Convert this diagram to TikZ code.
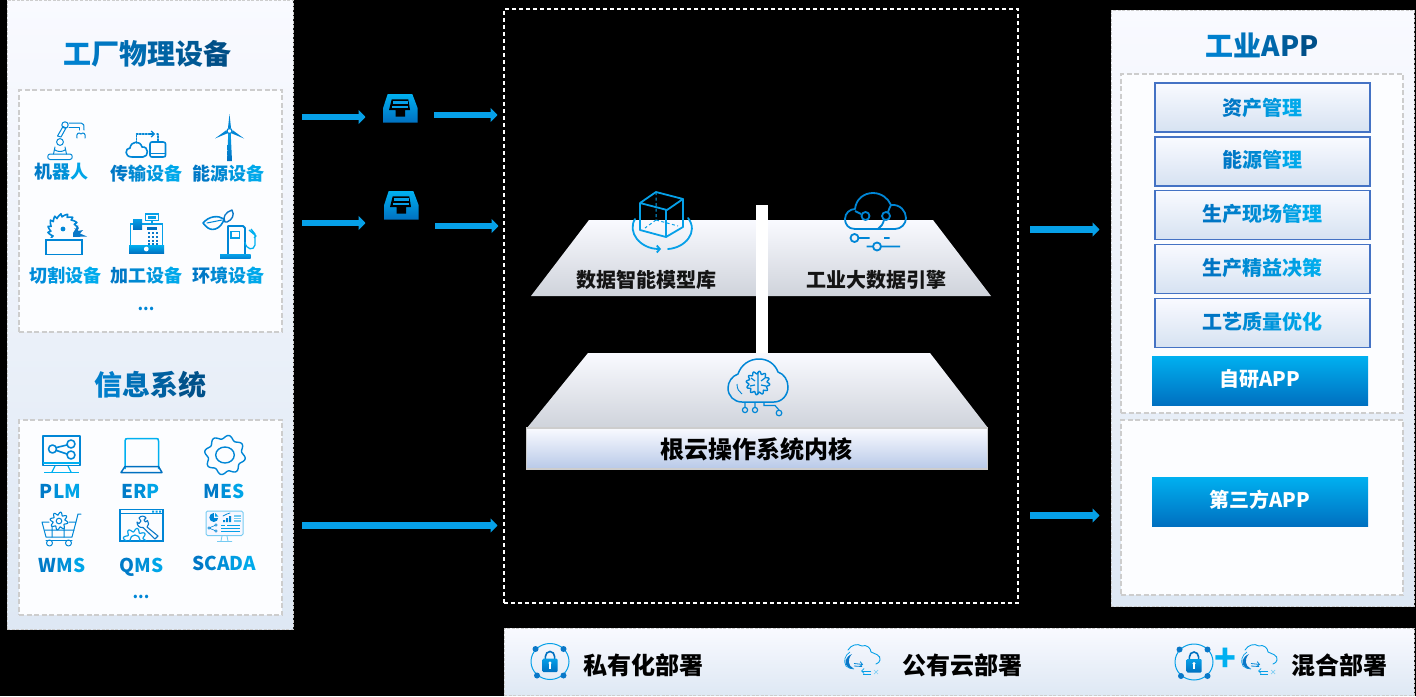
\documentclass[tikz,border=0pt]{standalone}
\usepackage{fontspec}
\setmainfont{Noto Sans CJK SC}
\usetikzlibrary{arrows.meta}
\definecolor{pa}{HTML}{F9FAFF}
\definecolor{pb}{HTML}{DEE8F4}
\definecolor{pl}{HTML}{CFD3DB}
\definecolor{pk}{HTML}{B8C9E8}
\definecolor{gd}{HTML}{CDCDCD}
\definecolor{ba}{HTML}{0070C0}
\definecolor{bb}{HTML}{00B0F0}
\definecolor{bc}{HTML}{004A80}
\definecolor{bd}{HTML}{0086D6}
\definecolor{be}{HTML}{06A0E8}
\definecolor{bf}{HTML}{0A78C8}
\definecolor{bg}{HTML}{4472C4}
\definecolor{inner}{HTML}{FCFDFF}
\ExplSyntaxOn
\NewDocumentCommand\gradtxt{mmm}{
  \int_set:Nn \l_tmpa_int {\tl_count:n{#3}}
  \int_set:Nn \l_tmpb_int {0}
  \tl_map_inline:nn {#3}{
    \int_incr:N \l_tmpb_int
    \tl_set:Nx \l_tmpa_tl {\int_eval:n{100*(2*\l_tmpb_int-1)/(2*\l_tmpa_int)}}
    \textcolor{#2!\l_tmpa_tl!#1}{##1}
  }
}
\ExplSyntaxOff
\newcommand\fs[1]{\fontsize{#1}{#1}\selectfont\bfseries}
\newcommand\rs[2]{\raisebox{#1}[\height][\depth]{#2}}
\tikzset{
  panel/.style={draw=gd,line width=1pt,dash pattern=on 3pt off 1.5pt,top color=pa,bottom color=pb,anchor=north west,inner sep=0pt,outer sep=0pt},
  innerp/.style={draw=gd,line width=1.5pt,dash pattern=on 5pt off 2.5pt,fill=inner,anchor=north west,inner sep=0pt,outer sep=0pt},
  txt/.style={inner sep=0pt,outer sep=0pt,anchor=center},
  title/.style={txt,font=\fs{28}},
  lab/.style={txt,font=\fs{18}},
  sys/.style={txt,font=\fs{19}},
  mid/.style={txt,font=\fs{20},text=black!92},
  big/.style={txt,font=\fs{24},text=black},
  appbox/.style={draw=bg,line width=1.5pt,top color=pa,bottom color=pb!95!bg,minimum width=215pt,minimum height=49pt,inner sep=0pt,outer sep=0pt,font=\fs{20}},
  blubox/.style={top color=bb,bottom color=ba,minimum width=216pt,minimum height=49pt,inner sep=0pt,outer sep=0pt,font=\fs{20},text=white},
  flow/.style={draw=be,line width=6.6pt,-{Triangle[length=7pt,width=14pt]},shorten <=0pt},
  ic/.style={draw=bd,line width=1pt,line cap=round,line join=round},
  icb/.style={draw=bd,line width=1.6pt,line cap=round,line join=round},
  inbox/.pic={
    \shade[top color=bb,bottom color=ba] (4.7,0) -- (29.3,0) -- (34.7,14.3) -- (34.7,28.7) -- (0,28.7) -- (0,14.3) -- cycle;
    \fill[black] (8.7,5.3) -- (25.3,5.3) -- (27,16) -- (22,16) -- (22,22.7) -- (12.7,22.7) -- (12.7,16) -- (6,16) -- cycle;
    \fill[be] (9.6,7) rectangle (24.6,9.6);
    \fill[be] (9,11.6) rectangle (25.2,14);
  },
  lockicon/.pic={
    \draw[draw=be,line width=1pt] (0,0) ellipse (19pt and 18pt);
    \foreach \a/\b in {-14.5/-12.5,13.5/-12.5,-13/14,13.5/14}{\fill[bf] (\a,\b) circle (3pt);}
    \draw[draw=ba,line width=1.6pt] (-4.6,-2) -- (-4.6,-5) arc[start angle=180,end angle=0,x radius=4.6pt,y radius=5pt] -- (4.6,-2);
    \shade[top color=be,bottom color=ba,rounded corners=1pt] (-7.5,-3) rectangle (7.5,10.5);
    \fill[white] (0,1.5) circle (1.7pt);
    \fill[white] (-1,2) rectangle (1,7);
  },
  cloudicon/.pic={
    \draw[draw=be,line width=.9pt,line cap=round] (13,15) .. controls (16,10) and (22,8) .. (27,11) .. controls (31,9) and (36,13) .. (36,17) .. controls (40,19) and (46,20) .. (45,25) .. controls (45,27) and (43,28) .. (41,29);
    \draw[draw=be,line width=.7pt] (15,17) .. controls (10,20) and (8,26) .. (11,31) .. controls (13,33) and (16,34) .. (19,34);
    \fill[bf] (17,19) .. controls (10,22) and (8,29) .. (13,32) .. controls (15,33.5) and (17,34) .. (18.5,33.5) .. controls (13,31) and (12,24) .. (17,19) -- cycle;
    \draw[draw=bd,line width=.8pt,-{Straight Barb[length=2.5pt,width=5pt]}] (19,28.5) -- (28,29.5);
    \draw[draw=bd,line width=.8pt] (19,31) -- (27,31.5);
    \draw[draw=be,line width=.8pt,-{Straight Barb[length=2.5pt,width=5pt]}] (36,36) -- (26,36);
    \draw[draw=be,line width=.8pt] (36,39) -- (28,39);
    \draw[draw=be!50,line width=.7pt] (39,35) -- (43,39) (43,35) -- (39,39);
  }
}
\begin{document}
\begin{tikzpicture}[x=1pt,y=-1pt]
\useasboundingbox (0,0) rectangle (1416,696);
\fill[black] (0,0) rectangle (1416,696);

% ---------- panels
\node[panel,minimum width=286pt,minimum height=629pt] (leftp) at (7,0) {};
\node[innerp,minimum width=263pt,minimum height=242pt] (factory) at (19,90) {};
\node[innerp,minimum width=263pt,minimum height=195pt] (infos) at (19,420) {};
\node[panel,minimum width=303pt,minimum height=596pt] (rightp) at (1111,10) {};
\node[innerp,minimum width=282pt,minimum height=339pt] (apps) at (1121,74) {};
\node[innerp,minimum width=282pt,minimum height=175pt] (third) at (1121,420) {};
\node[panel,minimum width=910pt,minimum height=67pt] (deploy) at (504,628) {};
\node[draw=white,line width=2pt,dash pattern=on 4pt off 3pt,anchor=north west,minimum width=514pt,minimum height=594pt,inner sep=0pt,outer sep=0pt] (core) at (504,9) {};

% ---------- titles
\node[title] (t1) at (147.5,54) {\gradtxt{bd}{bc}{工厂物理设备}};
\node[title] (t2) at (150,385) {\gradtxt{bd}{bc}{信息系统}};
\node[title] (t3) at (1262,45) {\gradtxt{bd}{bc}{工业APP}};

% ---------- device labels
\node[lab] (l1) at (61.5,172) {\gradtxt{ba}{bb}{机器人}};
\node[lab] (l2) at (146,174) {\gradtxt{ba}{bb}{传输设备}};
\node[lab] (l3) at (228,174) {\gradtxt{ba}{bb}{能源设备}};
\node[lab] (l4) at (65,276) {\gradtxt{bd}{bb}{切割设备}};
\node[lab] (l5) at (146,276) {\gradtxt{ba}{bb}{加工设备}};
\node[lab] (l6) at (228,276) {\gradtxt{ba}{bb}{环境设备}};
\node[txt,font=\fs{16},text=bd] (l7) at (146,309) {...};
\node[sys] (s1) at (60.5,491) {\gradtxt{ba}{bb}{PLM}};
\node[sys] (s2) at (140.5,491) {\gradtxt{ba}{bb}{ERP}};
\node[sys] (s3) at (224,491) {\gradtxt{ba}{bb}{MES}};
\node[sys] (s4) at (62,565) {\gradtxt{ba}{bb}{WMS}};
\node[sys] (s5) at (141.5,567) {\gradtxt{ba}{bb}{QMS}};
\node[sys] (s6) at (224.5,563) {\gradtxt{ba}{bb}{SCADA}};
\node[txt,font=\fs{16},text=bd] (s7) at (141,597) {...};

% ---------- app boxes
\node[appbox] (a1) at (1262.5,107.5) {\gradtxt{ba}{bb}{资产管理}};
\node[appbox] (a2) at (1262.5,161.5) {\rs{1.5pt}{\gradtxt{ba}{bb}{能源管理}}};
\node[appbox] (a3) at (1262.5,215) {\rs{1.5pt}{\gradtxt{ba}{bb}{生产现场管理}}};
\node[appbox] (a4) at (1262.5,269) {\rs{1.5pt}{\gradtxt{ba}{bb}{生产精益决策}}};
\node[appbox] (a5) at (1262.5,323) {\rs{1.5pt}{\gradtxt{ba}{bb}{工艺质量优化}}};
\node[blubox] (a6) at (1260,380.5) {\rs{2pt}{自研APP}};
\node[blubox] (a7) at (1260,501.5) {\rs{2pt}{第三方APP}};

% ---------- platform planes
\shade[top color=pa,bottom color=pl] (589,220) -- (756,220) -- (756,296) -- (531,296) -- cycle;
\shade[top color=pa,bottom color=pl] (768,220) -- (933,220) -- (991,296) -- (768,296) -- cycle;
\fill[white] (756,205) rectangle (768,354);
\shade[top color=pa,bottom color=pl] (588,353) -- (930,353) -- (988,428) -- (527,428) -- cycle;
\node[draw=gd,line width=1.5pt,top color=pa,bottom color=pk,anchor=north west,minimum width=461pt,minimum height=41pt,inner sep=0pt,outer sep=0pt] (kernel) at (526.5,428) {};
\node[big] (kt) at (756.5,449) {根云操作系统内核};
\node[mid] (m1) at (646,280) {数据智能模型库};
\node[mid] (m2) at (876,280) {工业大数据引擎};

% ---------- deployment labels
\node[big] (d1) at (643,665) {私有化部署};
\node[big] (d2) at (962,665) {公有云部署};
\node[big] (d3) at (1339.5,665) {混合部署};
\pic at (550,661.5) {lockicon};
\pic at (1194,662) {lockicon};
\pic at (835,635) {cloudicon};
\pic at (1232,635) {cloudicon};
\node[txt,font=\fs{36},text=bb] (plus) at (1225,660) {+};

% ---------- connectors
\coordinate (f1s) at (302,117); \coordinate (f1e) at (365.5,117);
\coordinate (f2s) at (434,115); \coordinate (f2e) at (497.5,115);
\coordinate (f3s) at (302,223); \coordinate (f3e) at (365.5,223);
\coordinate (f4s) at (435,226); \coordinate (f4e) at (498.5,226);
\coordinate (f5s) at (302,525.5); \coordinate (f5e) at (497.5,525.5);
\coordinate (f6s) at (1030,229.5); \coordinate (f6e) at (1099.5,229.5);
\coordinate (f7s) at (1030,515.5); \coordinate (f7e) at (1099.5,515.5);
\foreach \n in {1,...,7}{\draw[flow] (f\n s) -- (f\n e);}
\pic at (383,94) {inbox};
\pic at (384,191) {inbox};

% ---------- icon: robot
\draw[ic] (50,154) -- (70,154) .. controls (73,154) and (73,159.5) .. (70,159.5) -- (50,159.5) .. controls (47,159.5) and (47,154) .. (50,154);
\draw[ic] (53.5,154) -- (55,147) (66.5,154) -- (65,147) (55,150) .. controls (58,152) and (62,152) .. (65,150);
\draw[ic] (60,142) circle (3.4pt);
\draw[ic] (61,137) -- (66,128) -- (63,126.5) -- (57.5,136) -- cycle;
\draw[ic] (65,125) circle (3.2pt);
\draw[ic] (69,123) -- (81,123) .. controls (84,123) and (84,125) .. (84,130);
\draw[ic] (69,127) -- (79,127) -- (79,130);
\draw[ic] (77,138) .. controls (76,133) and (79,132) .. (81,134) .. controls (83,132) and (86,133) .. (85,138);
% ---------- icon: transfer
\draw[icb] (132,157) .. controls (124,157) and (125,148) .. (130,148) .. controls (131,141) and (140,140) .. (142,147) .. controls (149,146) and (149,157) .. (143,157) -- cycle;
\draw[icb] (150,144) .. controls (150,142.5) and (151,142) .. (152,142) -- (163,142) .. controls (165,142) and (165.5,143) .. (165.5,144) -- (165.5,155) .. controls (165.5,156.5) and (165,157) .. (163,157) -- (152,157) .. controls (151,157) and (150,156.5) .. (150,155) -- cycle;
\draw[ic] (150,153) -- (165.5,153);
\draw[ic,line width=1.4pt,dash pattern=on 1.5pt off 1.5pt] (136.5,143) -- (136.5,134) -- (152,134);
\draw[ic,line width=1.2pt,-{Straight Barb[length=3pt,width=6pt]}] (150,134) -- (155,134);
\draw[ic,line width=1.4pt,dash pattern=on 1.5pt off 1.5pt] (157,134) -- (158,134) -- (158,142);
% ---------- icon: turbine
\shade[top color=be,bottom color=ba] (228.3,133) -- (230.7,133) -- (232,161) -- (227,161) -- cycle;
\fill[bd] (229.5,114) -- (231,128) -- (228,128) -- cycle;
\fill[bd] (244,138.5) -- (231.5,133.3) -- (232.8,130.3) -- cycle;
\fill[bd] (215,138.5) -- (227.5,133.3) -- (226.2,130.3) -- cycle;
\draw[draw=bd,line width=1.2pt,fill=white] (229.5,131) circle (2.5pt);
% ---------- icon: saw
\draw[icb,fill=inner] plot[domain=0:360,samples=145] ({63+(12+3.5*mod(\x,24)/24)*cos(\x)},{229+(12+3.5*mod(\x,24)/24)*sin(\x)}) -- cycle;
\fill[bd] (63,229) circle (2.4pt);
\fill[inner] (66,234) -- (78,227) -- (80,242) -- (60,242) -- cycle;
\fill[bf] (73,233) -- (78,225) -- (78,231) -- (83,230) -- (80,233.5) -- (87,236.5) -- (73,237) -- cycle;
\fill[inner] (46,238) rectangle (82,242);
\draw[draw=bd,line width=1.5pt,fill=inner] (46,240) rectangle (82,254.5);
% ---------- icon: register
\draw[draw=be,line width=1.2pt] (130.5,245) -- (130.5,224) -- (162.5,224) -- (162.5,245);
\shade[top color=be,bottom color=ba] (133,219) rectangle (142,229.5);
\draw[draw=be,line width=1.2pt,fill=inner] (145.5,214) rectangle (158.5,220.5);
\fill[be] (148,216) rectangle (156,219);
\draw[draw=be,line width=1.2pt] (152,220.5) -- (152,224);
\fill[ba] (147,226.5) rectangle (157,230);
\foreach \i in {0,1,2}{\foreach \j in {0,1,2,3}{\fill[bf] (147.8+4*\i,232+3.8*\j) rectangle (150+4*\i,234+3.8*\j);}}
\shade[top color=bb,bottom color=ba] (129,245) rectangle (164,253.5);
\fill[white] (146.3,249) circle (2.4pt);
% ---------- icon: pump
\draw[draw=bd,line width=1.8pt,line join=round] (228,255) -- (228,226) -- (243,226) -- (245,228) -- (245,255);
\draw[draw=be,line width=1.2pt] (231,231.5) rectangle (239.5,238);
\shade[top color=be,bottom color=bd] (220,254.5) rectangle (250.5,258);
\draw[draw=bb,line width=1.3pt,line join=round] (245,242) .. controls (246,250) and (254,251) .. (255,245) -- (255,234) -- (251,229) (249,230) -- (256,236) -- (254,238);
\draw[icb,fill=inner] (203,223) .. controls (209,216) and (218,215) .. (224,219) .. controls (222,227) and (214,232) .. (208,228) .. controls (206,227) and (205,225) .. (203,223) -- cycle;
\draw[ic] (207,223) -- (222,220);
\draw[draw=bf,line width=1.4pt,line join=round,fill=inner] (225,222) .. controls (222,217) and (226,212) .. (232,210) .. controls (235,215) and (232,220) .. (227,222) -- cycle;
% ---------- icon: PLM
\draw[icb] (43,436) rectangle (80,465.5);
\draw[draw=bb,line width=1.2pt] (43,463) -- (80,463);
\draw[draw=bb,line width=1.2pt] (55,466) -- (52,472) (68,466) -- (71,472);
\draw[draw=bb,line width=1.3pt] (44,472.5) -- (79,472.5);
\draw[icb] (52.5,449) circle (4pt) (71,444) circle (4pt) (71,455) circle (4pt);
\draw[icb] (56.5,447.5) -- (67,445) (56.5,450.5) -- (67,454);
% ---------- icon: ERP
\draw[draw=bb,line width=1.5pt] (125,469) -- (125,441) .. controls (125,439) and (126,438.5) .. (128,438.5) -- (156,438.5) .. controls (158,438.5) and (158.5,439) .. (158.5,441) -- (158.5,469);
\draw[draw=ba,line width=1.5pt,line join=round] (125,466.5) -- (158.5,466.5) -- (162,472.5) -- (121,472.5) -- cycle;
% ---------- icon: MES
\draw[draw=bd,line width=1.4pt] plot[domain=0:360,samples=200,smooth] ({225+(18.7+1.8*sin(8*\x))*cos(\x)},{455+(18+1.8*sin(8*\x))*sin(\x)}) -- cycle;
\draw[draw=bd,line width=1.4pt] (225,455) ellipse (9.3pt and 8pt);
% ---------- icon: WMS
\draw[draw=bd,line width=1.1pt] plot[domain=0:360,samples=120,smooth] ({59+(7.5+1.5*sin(8*\x))*cos(\x)},{521+(7.5+1.5*sin(8*\x))*sin(\x)}) -- cycle;
\draw[ic] (59,521) circle (2.8pt);
\draw[ic] (42,522) -- (49,522) (42,522) -- (46,537) -- (72,537) -- (76,522) -- (69,522);
\draw[ic] (45,530) -- (74,530) (52,526) -- (52,537) (64,528) -- (64,537) (76,522) -- (78,514) -- (81,514);
\draw[ic] (46,540) -- (72,540);
\draw[ic] (49.5,543) circle (3pt) (68.5,543) circle (3pt);
% ---------- icon: QMS
\draw[draw=bd,line width=1.2pt] (120,509.5) rectangle (163,541);
\draw[draw=bd,line width=1.2pt] (120,513.5) -- (163,513.5);
\fill[be] (152,510.5) rectangle (154,512.5) (155.5,510.5) rectangle (157.5,512.5) (159,510.5) rectangle (161,512.5);
\begin{scope}
\clip (121,514) rectangle (162,540.5);
\draw[draw=be,line width=1.2pt] plot[domain=0:360,samples=120,smooth] ({135+(10+1.8*sin(8*\x))*cos(\x)},{540+(10+1.8*sin(8*\x))*sin(\x)}) -- cycle;
\draw[draw=be,line width=1.2pt] (135,540) circle (5pt);
\end{scope}
\draw[draw=bf,line width=1.1pt,line join=round] (139,518) .. controls (141,515) and (145,516) .. (146,518) -- (144,520) -- (145.5,522) -- (147.5,520.5) .. controls (149,523) and (149,525) .. (147,527) -- (158,536) -- (155,539) -- (143,527.5) .. controls (140,528) and (137,526) .. (137,522) -- (139,523.5) -- (141,521) -- cycle;
% ---------- icon: SCADA
\draw[draw=be!55,line width=1pt,rounded corners=1.5pt,fill=blue!3] (206,511) rectangle (243,535.5);
\fill[bd] (213.8,517.5) circle (4.5pt);
\fill[blue!3] (213.8,517.5) -- (213.8,512.5) -- (219,512.5) -- (219,517.5) -- cycle;
\fill[be] (215,516.5) -- (215,512.8) -- (218.4,516.5) -- cycle;
\fill[bd] (223,520) rectangle (225,522) (226,518) rectangle (228,522) (229,516) rectangle (231,522);
\draw[ic,line width=.7pt] (223,516) -- (227,514) -- (230,513);
\fill[be!55] (234,515) rectangle (241,522);
\draw[white,line width=.5pt] (234,517) -- (241,517) (234,519) -- (241,519);
\draw[draw=bd,line width=.6pt] (209,528) circle (1.3pt) (216,525) circle (1.3pt) (216,531) circle (1.3pt) (210,527.5) -- (215,525.5) (210,528.5) -- (215,530.5);
\draw[draw=be,line width=.6pt] (221,525) -- (225,525) (227,525) -- (240,525) (221,528) -- (240,528) (221,531) -- (240,531);
\draw[draw=be!55,line width=.8pt] (222,536) -- (221,541) (227,536) -- (228,541) (217,541.5) -- (232,541.5);
% ---------- icon: cube
\draw[draw=be,line width=1.8pt,line join=round,line cap=round] (656,192) -- (683,199) -- (667,210) -- (640,203) -- cycle (640,203) -- (640,230) -- (666,237) -- (683,227) -- (683,199) (666,210) -- (666,237);
\draw[draw=be,line width=1pt,dash pattern=on 3pt off 2.5pt] (656,192) -- (656,220) (656,220) -- (645,228) (656,220) -- (678,226);
\draw[draw=be,line width=1.8pt,line cap=round,-{Straight Barb[length=3pt,width=7pt]}] (635,219) .. controls (627,232) and (640,249) .. (661,249);
\draw[draw=be,line width=1.8pt,line cap=round] (668,249) .. controls (685,248) and (699,232) .. (688,218);
% ---------- icon: engine cloud
\draw[draw=bd,line width=1.8pt,line join=round] (855,229) .. controls (848,229) and (845,224) .. (845,219) .. controls (845,213) and (850,209) .. (855,209) .. controls (856,199) and (864,193) .. (873,193) .. controls (881,193) and (888,198) .. (891,205) .. controls (900,204) and (906,211) .. (906,218) .. controls (906,224) and (901,229) .. (895,229) -- cycle;
\draw[draw=bd,line width=1.8pt] (855,211) -- (861,214);
\draw[draw=bd,line width=1.8pt] (865.5,216) circle (4pt);
\draw[draw=bd,line width=1.8pt] (886,216) circle (4pt);
\draw[draw=bd,line width=1.8pt] (888,212) .. controls (889,209) and (890,207) .. (891,205) (884,220) .. controls (883,224) and (881,227) .. (878,229);
\draw[draw=bd,line width=1.8pt] (854.5,238) circle (4pt) (858.5,238) -- (869.5,238) (884,238) -- (889.5,238);
\draw[draw=bd,line width=1.8pt] (866.5,246.5) -- (873,246.5) (881,246.5) -- (900,246.5) (877,246.5) circle (4pt);
% ---------- icon: brain cloud
\draw[draw=bd,line width=1.5pt,line join=round] (742,402) .. controls (734,402) and (728,396) .. (728,388) .. controls (728,382) and (732,376) .. (738,374) .. controls (741,365) and (749,359) .. (759,359) .. controls (768,359) and (775,364) .. (778,372) .. controls (784,374) and (788,380) .. (788,387) .. controls (788,395) and (782,402) .. (774,402) -- cycle;
\draw[draw=bd,line width=1.4pt] plot[domain=0:360,samples=150,smooth] ({758+(10.5+1.3*sin(12*\x))*cos(\x)},{383+(10.5+1.3*sin(12*\x))*sin(\x)}) -- cycle;
\draw[draw=bd,line width=1.2pt] (758,372) -- (758,394) (751,378) -- (755,381) (765,378) -- (761,381) (750,386) -- (755,385) (766,386) -- (761,385);
\draw[draw=bd,line width=.9pt] (737,384) .. controls (737,389) and (739,392) .. (742,394);
\draw[draw=bd,line width=1.2pt] (745,402) -- (745,407) (755,402) -- (755,407) (764,402) -- (764,405.5) -- (775,405.5) -- (779,410);
\draw[draw=bd,line width=1.2pt] (745,410) circle (2.6pt) (755,410) circle (2.6pt) (779,413) circle (2.8pt);
\end{tikzpicture}
\end{document}
